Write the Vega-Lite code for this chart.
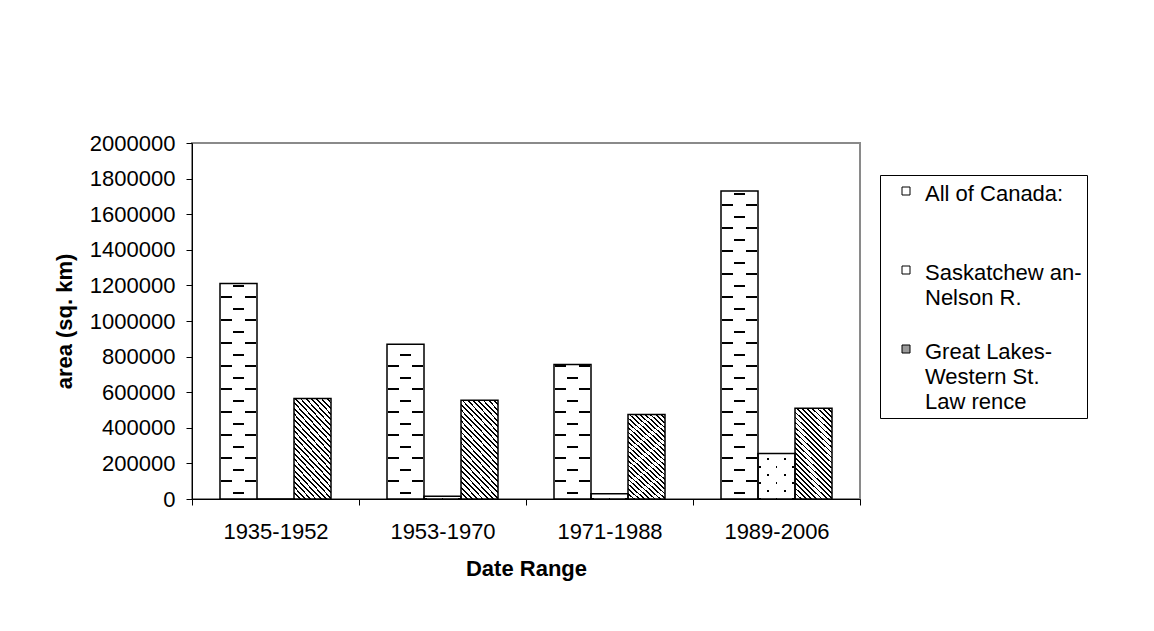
{
  "$schema": "https://vega.github.io/schema/vega-lite/v6.json",
  "width": 668,
  "height": 356,
  "autosize": {"type": "none"},
  "padding": {"left": 192, "top": 143, "right": 294, "bottom": 132},
  "background": "white",
  "config": {
    "font": "Liberation Sans",
    "view": {"stroke": "#8a8a8a", "strokeWidth": 2},
    "axis": {
      "labelFontSize": 22,
      "labelColor": "black",
      "titleFontSize": 22,
      "titleFontWeight": "bold",
      "titleColor": "black",
      "domainColor": "black",
      "tickColor": "black",
      "tickSize": 6,
      "grid": false
    },
    "legend": {
      "orient": "none",
      "legendX": 688,
      "legendY": 32,
      "strokeColor": "black",
      "fillColor": "white",
      "padding": 5,
      "symbolType": "square",
      "symbolSize": 64,
      "symbolStrokeColor": "black",
      "symbolStrokeWidth": 1,
      "symbolOffset": 10,
      "labelFontSize": 22,
      "labelColor": "black",
      "labelOffset": 8,
      "labelBaseline": "top",
      "labelLimit": 400,
      "gridAlign": "all",
      "rowPadding": 4
    }
  },
  "data": {
    "values": [
      {"period": "1935-1952", "series": "All of Canada:", "area": 1210000},
      {"period": "1935-1952", "series": "Saskatchewan-Nelson R.", "area": 0},
      {"period": "1935-1952", "series": "Great Lakes-Western St. Lawrence", "area": 565000},
      {"period": "1953-1970", "series": "All of Canada:", "area": 870000},
      {"period": "1953-1970", "series": "Saskatchewan-Nelson R.", "area": 15000},
      {"period": "1953-1970", "series": "Great Lakes-Western St. Lawrence", "area": 555000},
      {"period": "1971-1988", "series": "All of Canada:", "area": 755000},
      {"period": "1971-1988", "series": "Saskatchewan-Nelson R.", "area": 30000},
      {"period": "1971-1988", "series": "Great Lakes-Western St. Lawrence", "area": 475000},
      {"period": "1989-2006", "series": "All of Canada:", "area": 1730000},
      {"period": "1989-2006", "series": "Saskatchewan-Nelson R.", "area": 255000},
      {"period": "1989-2006", "series": "Great Lakes-Western St. Lawrence", "area": 510000}
    ]
  },
  "encoding": {
    "x": {
      "field": "period",
      "type": "nominal",
      "title": "Date Range",
      "scale": {"type": "band", "paddingInner": 0, "paddingOuter": 0},
      "axis": {"labelAngle": 0, "tickBand": "extent", "labelPadding": 16, "titlePadding": 16}
    },
    "xOffset": {
      "field": "series",
      "type": "nominal",
      "scale": {
        "domain": ["All of Canada:", "Saskatchewan-Nelson R.", "Great Lakes-Western St. Lawrence"],
        "paddingInner": 0,
        "paddingOuter": 0.756757
      }
    },
    "y": {
      "field": "area",
      "type": "quantitative",
      "title": "area (sq. km)",
      "scale": {"domain": [0, 2000000], "nice": false},
      "axis": {
        "values": [0, 200000, 400000, 600000, 800000, 1000000, 1200000, 1400000, 1600000, 1800000, 2000000],
        "format": "d",
        "labelPadding": 11,
        "titlePadding": 13
      }
    }
  },
  "layer": [
    {
      "mark": {"type": "bar"},
      "encoding": {
        "fill": {
          "field": "series",
          "type": "nominal",
          "scale": {
            "domain": ["All of Canada:", "Saskatchewan-Nelson R.", "Great Lakes-Western St. Lawrence"],
            "range": ["#ffffff", "#ffffff", "#9a9a9a"]
          },
          "legend": {
            "title": null,
            "labelExpr": "datum.value === 'Saskatchewan-Nelson R.' ? ['Saskatchew an-', 'Nelson R.'] : datum.value === 'Great Lakes-Western St. Lawrence' ? ['Great Lakes-', 'Western St.', 'Law rence'] : datum.label",
            "encode": {"labels": {"update": {"lineHeight": {"value": 25}, "dy": {"value": -7}}}}
          }
        }
      }
    },
    {
      "transform": [{"filter": "datum.series === 'Great Lakes-Western St. Lawrence'"}],
      "mark": {
        "type": "bar",
        "fill": {
          "gradient": "linear",
          "x1": 0, "y1": 1, "x2": 0.476, "y2": -0.207,
          "stops": [
            {"offset": 0, "color": "black"}, {"offset": 0.014, "color": "black"}, {"offset": 0.014, "color": "white"}, {"offset": 0.04, "color": "white"},
            {"offset": 0.04, "color": "black"}, {"offset": 0.054, "color": "black"}, {"offset": 0.054, "color": "white"}, {"offset": 0.08, "color": "white"},
            {"offset": 0.08, "color": "black"}, {"offset": 0.094, "color": "black"}, {"offset": 0.094, "color": "white"}, {"offset": 0.12, "color": "white"},
            {"offset": 0.12, "color": "black"}, {"offset": 0.134, "color": "black"}, {"offset": 0.134, "color": "white"}, {"offset": 0.16, "color": "white"},
            {"offset": 0.16, "color": "black"}, {"offset": 0.174, "color": "black"}, {"offset": 0.174, "color": "white"}, {"offset": 0.2, "color": "white"},
            {"offset": 0.2, "color": "black"}, {"offset": 0.214, "color": "black"}, {"offset": 0.214, "color": "white"}, {"offset": 0.24, "color": "white"},
            {"offset": 0.24, "color": "black"}, {"offset": 0.254, "color": "black"}, {"offset": 0.254, "color": "white"}, {"offset": 0.28, "color": "white"},
            {"offset": 0.28, "color": "black"}, {"offset": 0.294, "color": "black"}, {"offset": 0.294, "color": "white"}, {"offset": 0.32, "color": "white"},
            {"offset": 0.32, "color": "black"}, {"offset": 0.334, "color": "black"}, {"offset": 0.334, "color": "white"}, {"offset": 0.36, "color": "white"},
            {"offset": 0.36, "color": "black"}, {"offset": 0.374, "color": "black"}, {"offset": 0.374, "color": "white"}, {"offset": 0.4, "color": "white"},
            {"offset": 0.4, "color": "black"}, {"offset": 0.414, "color": "black"}, {"offset": 0.414, "color": "white"}, {"offset": 0.44, "color": "white"},
            {"offset": 0.44, "color": "black"}, {"offset": 0.454, "color": "black"}, {"offset": 0.454, "color": "white"}, {"offset": 0.48, "color": "white"},
            {"offset": 0.48, "color": "black"}, {"offset": 0.494, "color": "black"}, {"offset": 0.494, "color": "white"}, {"offset": 0.52, "color": "white"},
            {"offset": 0.52, "color": "black"}, {"offset": 0.534, "color": "black"}, {"offset": 0.534, "color": "white"}, {"offset": 0.56, "color": "white"},
            {"offset": 0.56, "color": "black"}, {"offset": 0.574, "color": "black"}, {"offset": 0.574, "color": "white"}, {"offset": 0.6, "color": "white"},
            {"offset": 0.6, "color": "black"}, {"offset": 0.614, "color": "black"}, {"offset": 0.614, "color": "white"}, {"offset": 0.64, "color": "white"},
            {"offset": 0.64, "color": "black"}, {"offset": 0.654, "color": "black"}, {"offset": 0.654, "color": "white"}, {"offset": 0.68, "color": "white"},
            {"offset": 0.68, "color": "black"}, {"offset": 0.694, "color": "black"}, {"offset": 0.694, "color": "white"}, {"offset": 0.72, "color": "white"},
            {"offset": 0.72, "color": "black"}, {"offset": 0.734, "color": "black"}, {"offset": 0.734, "color": "white"}, {"offset": 0.76, "color": "white"},
            {"offset": 0.76, "color": "black"}, {"offset": 0.774, "color": "black"}, {"offset": 0.774, "color": "white"}, {"offset": 0.8, "color": "white"},
            {"offset": 0.8, "color": "black"}, {"offset": 0.814, "color": "black"}, {"offset": 0.814, "color": "white"}, {"offset": 0.84, "color": "white"},
            {"offset": 0.84, "color": "black"}, {"offset": 0.854, "color": "black"}, {"offset": 0.854, "color": "white"}, {"offset": 0.88, "color": "white"},
            {"offset": 0.88, "color": "black"}, {"offset": 0.894, "color": "black"}, {"offset": 0.894, "color": "white"}, {"offset": 0.92, "color": "white"},
            {"offset": 0.92, "color": "black"}, {"offset": 0.934, "color": "black"}, {"offset": 0.934, "color": "white"}, {"offset": 0.96, "color": "white"},
            {"offset": 0.96, "color": "black"}, {"offset": 0.974, "color": "black"}, {"offset": 0.974, "color": "white"}, {"offset": 1, "color": "white"}
          ]
        }
      }
    },
    {
      "transform": [{"filter": "datum.series === 'All of Canada:'"}],
      "mark": {"type": "rule", "color": "black", "strokeWidth": 35, "strokeDash": [2, 21], "strokeDashOffset": 6},
      "encoding": {
        "y": {"datum": 0, "type": "quantitative", "title": "area (sq. km)"},
        "y2": {"field": "area"}
      }
    },
    {
      "transform": [{"filter": "datum.series === 'All of Canada:'"}],
      "mark": {"type": "rule", "color": "white", "strokeWidth": 13, "strokeDash": [2, 21], "strokeDashOffset": 6},
      "encoding": {
        "y": {"datum": 0, "type": "quantitative", "title": "area (sq. km)"},
        "y2": {"field": "area"}
      }
    },
    {
      "transform": [{"filter": "datum.series === 'All of Canada:'"}],
      "mark": {"type": "rule", "color": "black", "strokeWidth": 11, "strokeDash": [2, 21], "strokeDashOffset": 18},
      "encoding": {
        "y": {"datum": 0, "type": "quantitative", "title": "area (sq. km)"},
        "y2": {"field": "area"}
      }
    },
    {
      "transform": [{"filter": "datum.series === 'Saskatchewan-Nelson R.'"}],
      "mark": {"type": "rule", "color": "black", "strokeWidth": 19, "strokeDash": [2, 14], "strokeDashOffset": 9},
      "encoding": {
        "y": {"datum": 0, "type": "quantitative", "title": "area (sq. km)"},
        "y2": {"field": "area"}
      }
    },
    {
      "transform": [{"filter": "datum.series === 'Saskatchewan-Nelson R.'"}],
      "mark": {"type": "rule", "color": "white", "strokeWidth": 15, "strokeDash": [2, 14], "strokeDashOffset": 9},
      "encoding": {
        "y": {"datum": 0, "type": "quantitative", "title": "area (sq. km)"},
        "y2": {"field": "area"}
      }
    },
    {
      "transform": [{"filter": "datum.series === 'Saskatchewan-Nelson R.'"}],
      "mark": {"type": "rule", "color": "black", "strokeWidth": 35, "strokeDash": [2, 14], "strokeDashOffset": 1},
      "encoding": {
        "y": {"datum": 0, "type": "quantitative", "title": "area (sq. km)"},
        "y2": {"field": "area"}
      }
    },
    {
      "transform": [{"filter": "datum.series === 'Saskatchewan-Nelson R.'"}],
      "mark": {"type": "rule", "color": "white", "strokeWidth": 31, "strokeDash": [2, 14], "strokeDashOffset": 1},
      "encoding": {
        "y": {"datum": 0, "type": "quantitative", "title": "area (sq. km)"},
        "y2": {"field": "area"}
      }
    },
    {
      "transform": [{"filter": "datum.series === 'Saskatchewan-Nelson R.'"}],
      "mark": {"type": "rule", "color": "black", "strokeWidth": 1, "strokeDash": [2, 14], "strokeDashOffset": 1},
      "encoding": {
        "y": {"datum": 0, "type": "quantitative", "title": "area (sq. km)"},
        "y2": {"field": "area"}
      }
    },
    {
      "mark": {"type": "bar", "fill": "transparent", "stroke": "black", "strokeWidth": 1.5}
    }
  ]
}
